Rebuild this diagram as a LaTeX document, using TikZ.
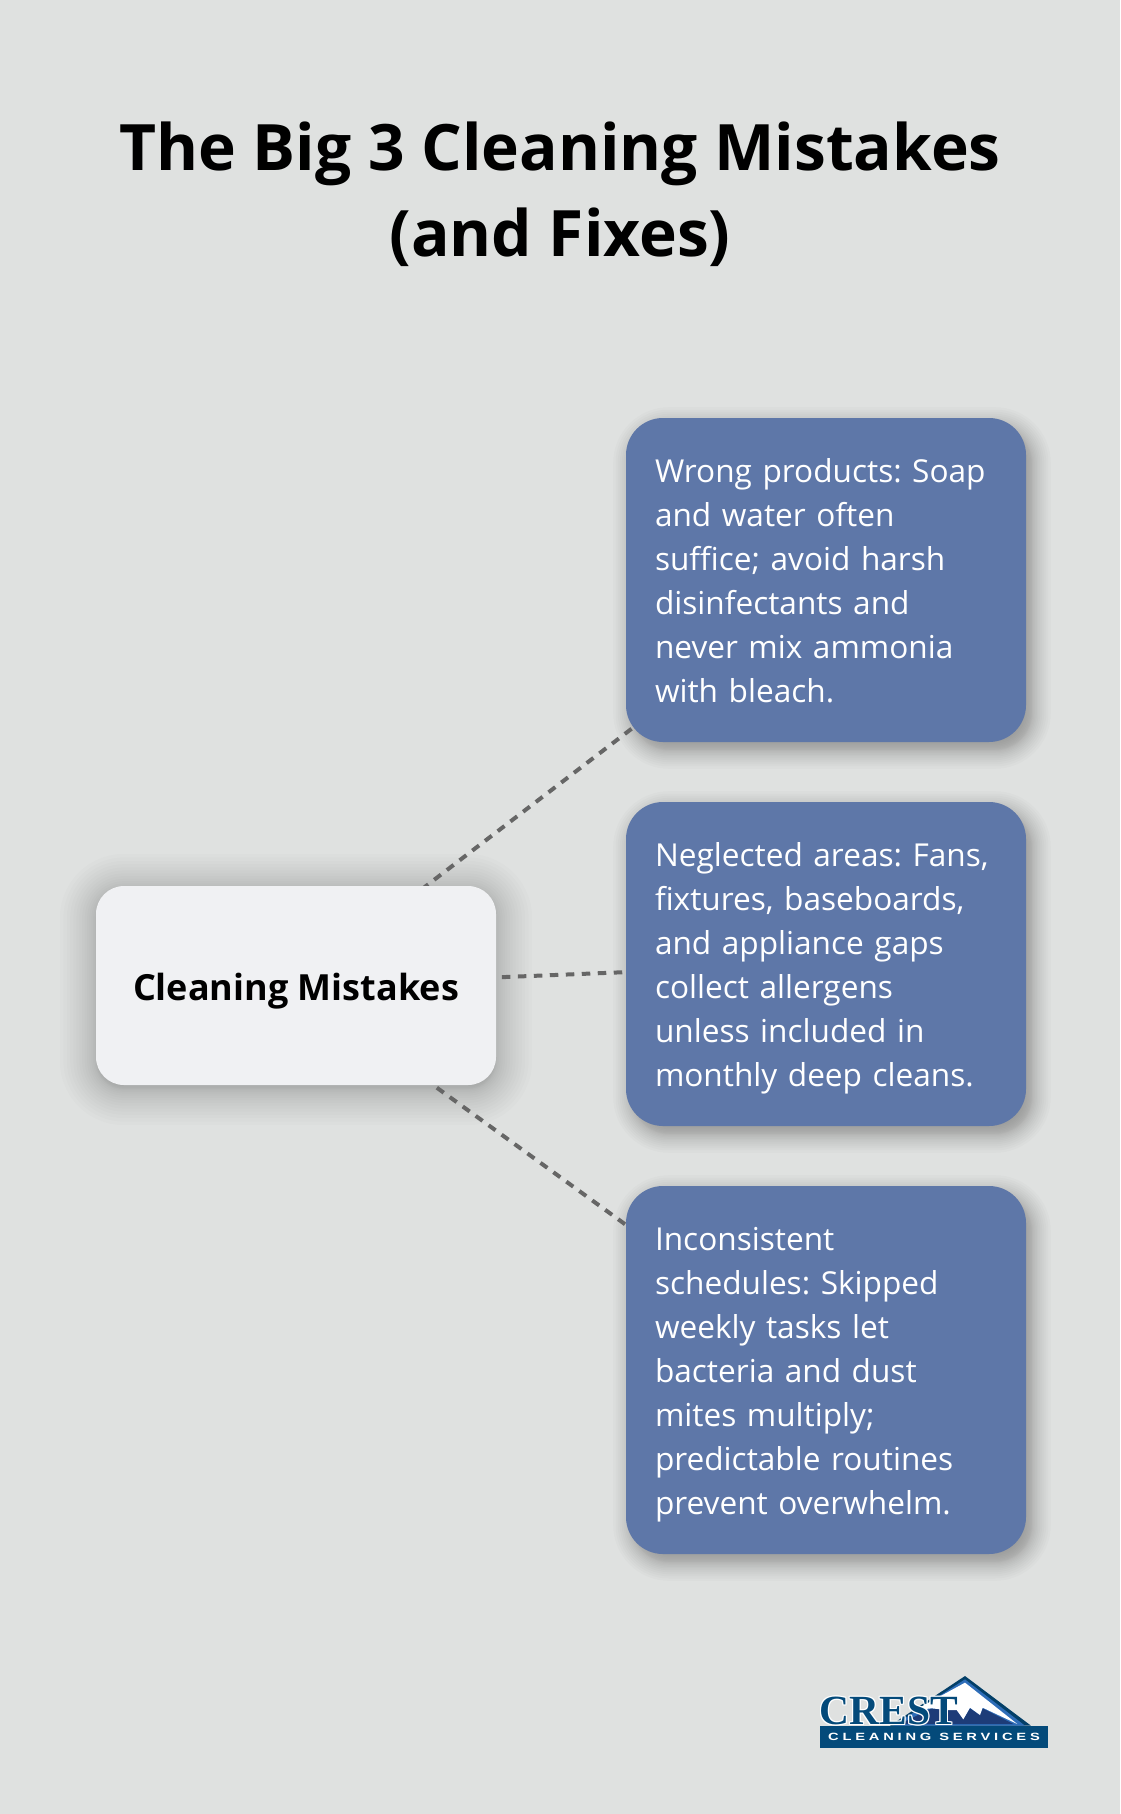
\documentclass[tikz,border=0pt]{standalone}
\usepackage{fontspec}
\setmainfont{Open Sans}
\newfontfamily\logoserif{Liberation Serif}
\newfontfamily\logosans[LetterSpace=36,FakeStretch=1.4]{Liberation Sans}
\usetikzlibrary{backgrounds}
\definecolor{bgc}{HTML}{DFE1E0}
\definecolor{bluebox}{HTML}{5E77A8}
\definecolor{lightbox}{HTML}{F0F1F3}
\definecolor{linkc}{HTML}{666666}
\definecolor{logoblue}{HTML}{044A7A}
\definecolor{logonavy}{HTML}{1D3C78}
\definecolor{logomid}{HTML}{2E6DB8}
\tikzset{
  x=1pt,y=-1pt,
  mistake/.style={draw=none,fill=bluebox,rounded corners=37pt,minimum width=400pt,minimum height=#1,
    text width=342pt,align=left,inner xsep=29pt,inner ysep=0pt,text=white,
    font=\fontsize{31.6}{44}\selectfont\frenchspacing,anchor=center},
  central/.style={fill=lightbox,rounded corners=28pt,minimum width=400pt,minimum height=199pt,
    inner sep=0pt,font=\fontsize{36}{44}\selectfont\bfseries,text=black},
  link/.style={draw=linkc,line width=4pt,dash pattern=on 8.5pt off 7.5pt,dash phase=2pt},
}
\newcommand{\blurbox}[8]{% x0 y0 x1 y1 radius blur step-opacity layers
  \foreach \k in {1,...,#8}{%
    \pgfmathsetmacro{\uu}{1-2*(\k-0.5)/#8}%
    \pgfmathsetmacro{\gr}{#6*\uu*abs(\uu)^0.45}%
    \pgfmathsetmacro{\rd}{max(#5+\gr,1)}%
    \fill[black,opacity=#7,rounded corners=\rd pt]
      (#1-\gr,#2-\gr) rectangle (#3+\gr,#4+\gr);
  }%
}
\newcommand{\lowered}[2]{\raisebox{-#1}[\height][\depth]{#2}}
\newcommand{\topline}{\rule{0pt}{38.8pt}}
\begin{document}
\begin{tikzpicture}
\useasboundingbox (0,0) rectangle (1120,1814);
\node[font=\fontsize{64}{85.6}\selectfont\bfseries,align=center,text=black,inner sep=0pt] (title) at (560,194.5)
  {The Big 3 Cleaning Mistakes\\(and Fixes)};
\node[central] (m) at (296,985.5) {\lowered{5.8pt}{Cleaning Mistakes}};
\node[mistake=324pt] (a) at (826,580) {\topline Wrong products: Soap\\and water often\\suffice; avoid harsh\\disinfectants and\\never mix ammonia\\with bleach.\strut};
\node[mistake=324pt] (b) at (826,964) {\topline Neglected areas: Fans,\\fixtures, baseboards,\\and appliance gaps\\collect allergens\\unless included in\\monthly deep cleans.\strut};
\node[mistake=368pt] (c) at (826,1370) {\topline Inconsistent\\schedules: Skipped\\weekly tasks let\\bacteria and dust\\mites multiply;\\predictable routines\\prevent overwhelm.\strut};
\begin{scope}[on background layer]
  \fill[bgc] (0,0) rectangle (1120,1814);
  \blurbox{96}{890}{496}{1089}{28}{38}{0.011}{30}
  \blurbox{632}{426}{1032}{750}{37}{20}{0.016}{24}
  \blurbox{632}{810}{1032}{1134}{37}{20}{0.016}{24}
  \blurbox{632}{1194}{1032}{1562}{37}{20}{0.016}{24}
  \draw[link] (m.center) -- (a.center);
  \draw[link] (m.center) -- (b.center);
  \draw[link] (m.center) -- (c.center);
\end{scope}
% logo, in crop coordinates: 3 units per pixel
\begin{scope}[shift={(800,1660)},x=0.3333pt,y=-0.3333pt]
  \fill[logoblue!85!black] (495,48) -- (693,197) -- (270,197) -- cycle;
  \fill[logomid] (495,58) -- (675,197) -- (280,197) -- cycle;
  \fill[logonavy] (395,145) -- (440,150) -- (470,150) -- (490,178) -- (510,145) -- (540,165) -- (548,145) -- (640,192) -- (300,192) -- cycle;
  \fill[white] (495,68) -- (652,192) -- (548,143) -- (540,165) -- (510,143) -- (490,178) -- (470,150) -- (440,150) -- (395,145) -- (345,150) -- cycle;
  \fill[logoblue] (60,197) rectangle (745,265);
\end{scope}
\foreach \dx/\dy in {-1/0,1/0,0/-1,0/1,-1/-1,1/1,-1/1,1/-1}
  \node[inner sep=0pt,text=white,font=\fontsize{41.5}{42}\selectfont\logoserif\bfseries] at (889+\dx,1711+\dy) {CREST};
\node[inner sep=0pt,text=logoblue,font=\fontsize{41.5}{42}\selectfont\logoserif\bfseries] (crest) at (889,1711) {CREST};
\node[inner sep=0pt,text=white,font=\fontsize{10.5}{11}\selectfont\logosans\bfseries] (services) at (934,1737) {CLEANING SERVICES};
\end{tikzpicture}
\end{document}
